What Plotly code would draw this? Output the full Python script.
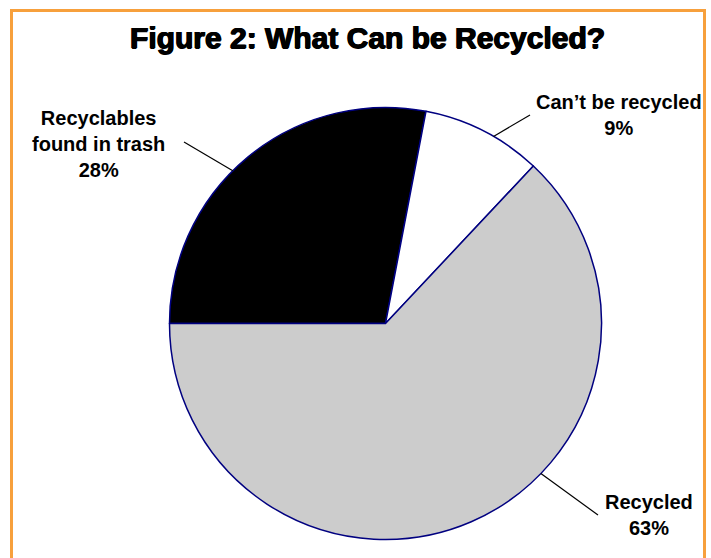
import math
import plotly.graph_objects as go

# ---- data ----
categories = ["Recyclables<br>found in trash", "Can’t be recycled", "Recycled"]
values = [28, 9, 63]
colors = ["#000000", "#FFFFFF", "#CCCCCC"]
title_text = "Figure 2: What Can be Recycled?"

# ---- layout constants (pixels) ----
W, H = 711, 558
CX, CY, R = 385.5, 323.5, 216.0
leader_angles = [315, 30, 134]            # clockwise from 12 o'clock, on the pie edge
leader_outer = [(184, 142), (530, 115), (598, 515)]
label_pos = [(98, 144), (619, 115), (649, 515)]


def px(x):
    return x / W


def py(y):
    return 1 - y / H


fig = go.Figure(
    go.Pie(
        labels=[c.replace("<br>", " ") for c in categories],
        values=values,
        sort=False,
        direction="clockwise",
        rotation=270,
        marker=dict(colors=colors, line=dict(color="#000080", width=1.5)),
        textinfo="none",
        hoverinfo="label+percent",
        showlegend=False,
        domain=dict(x=[px(CX - R), px(CX + R)], y=[py(CY + R), py(CY - R)]),
    )
)

total = sum(values)
annotations = []
shapes = []
for cat, val, ang, outer, lp in zip(categories, values, leader_angles, leader_outer, label_pos):
    pct = round(100 * val / total)
    annotations.append(
        dict(
            x=px(lp[0]), y=py(lp[1]), xref="paper", yref="paper",
            text=f"<b>{cat}<br>{pct}%</b>", showarrow=False,
            xanchor="center", yanchor="middle", align="center",
            font=dict(family="Arial, Liberation Sans, sans-serif", size=20, color="#000000"),
        )
    )
    a = math.radians(ang)
    ex, ey = CX + R * math.sin(a), CY - R * math.cos(a)
    shapes.append(
        dict(type="line", xref="paper", yref="paper",
             x0=px(ex), y0=py(ey), x1=px(outer[0]), y1=py(outer[1]),
             line=dict(color="#000000", width=1.2))
    )

annotations.append(
    dict(
        x=px(367), y=py(38), xref="paper", yref="paper",
        text=f"<b>{title_text}</b>", showarrow=False,
        xanchor="center", yanchor="middle",
        font=dict(family="Arial, Liberation Sans, sans-serif", size=30, color="#000000",
                  shadow="0.7px 0 0 #000, -0.7px 0 0 #000, 0 0.5px 0 #000"),
    )
)

shapes.append(
    dict(type="rect", xref="paper", yref="paper",
         x0=px(11.5), x1=px(704.5), y0=py(575), y1=py(10.5),
         line=dict(color="#F7A03C", width=3), fillcolor="rgba(0,0,0,0)")
)

fig.update_layout(
    width=W, height=H,
    margin=dict(l=0, r=0, t=0, b=0),
    paper_bgcolor="#FFFFFF",
    plot_bgcolor="#FFFFFF",
    annotations=annotations,
    shapes=shapes,
)

fig.write_html("out.html")
